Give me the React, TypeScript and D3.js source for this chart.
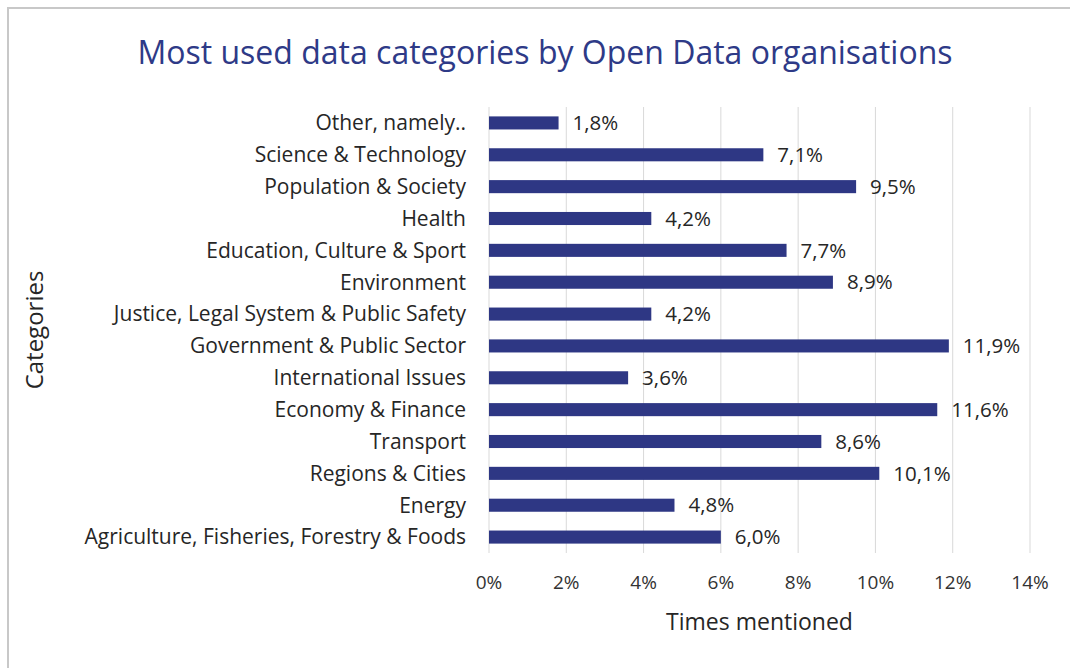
import React, { useEffect, useRef } from 'react';
import * as d3 from 'd3';

const categories = [
  'Other, namely..',
  'Science & Technology',
  'Population & Society',
  'Health',
  'Education, Culture & Sport',
  'Environment',
  'Justice, Legal System & Public Safety',
  'Government & Public Sector',
  'International Issues',
  'Economy & Finance',
  'Transport',
  'Regions & Cities',
  'Energy',
  'Agriculture, Fisheries, Forestry & Foods',
];

const shares = [1.8, 7.1, 9.5, 4.2, 7.7, 8.9, 4.2, 11.9, 3.6, 11.6, 8.6, 10.1, 4.8, 6.0];

const xTicks = [0, 2, 4, 6, 8, 10, 12, 14];

const W = 1070;
const H = 668;
const FONT = '"Open Sans", "Noto Sans", sans-serif';

const App: React.FC = () => {
  const ref = useRef<SVGSVGElement | null>(null);

  useEffect(() => {
    const svg = d3.select(ref.current);
    svg.selectAll('*').remove();

    const left = 489, right = 1030, top = 107, bottom = 553;

    const x = d3.scaleLinear().domain([0, 14]).range([left, right]);
    const y = d3.scaleBand<string>().domain(categories).range([top, bottom])
      .paddingInner(0.59).paddingOuter(0.295);

    // frame edges
    svg.append('rect').attr('x', 0).attr('y', 0).attr('width', W).attr('height', H).attr('fill', '#fff');
    svg.append('line').attr('x1', 7).attr('x2', W).attr('y1', 8).attr('y2', 8)
      .attr('stroke', '#c8c8c8').attr('stroke-width', 2);
    svg.append('line').attr('x1', 8).attr('x2', 8).attr('y1', 7).attr('y2', H)
      .attr('stroke', '#c8c8c8').attr('stroke-width', 2);

    // gridlines
    svg.append('g').selectAll('line').data(xTicks).enter().append('line')
      .attr('x1', d => x(d)).attr('x2', d => x(d))
      .attr('y1', top).attr('y2', bottom)
      .attr('stroke', '#d9d9d9').attr('stroke-width', 1);

    // tick labels
    svg.append('g').selectAll('text').data(xTicks).enter().append('text')
      .attr('x', d => x(d)).attr('y', 589)
      .attr('text-anchor', 'middle')
      .attr('font-family', FONT).attr('font-size', 19).attr('fill', '#333')
      .text(d => `${d}%`);

    // bars
    svg.append('g').selectAll('rect').data(shares).enter().append('rect')
      .attr('x', x(0))
      .attr('y', (d, i) => y(categories[i])!)
      .attr('width', d => x(d) - x(0))
      .attr('height', y.bandwidth())
      .attr('fill', '#2e3784');

    // value labels
    svg.append('g').selectAll('text').data(shares).enter().append('text')
      .attr('x', d => x(d) + 14)
      .attr('y', (d, i) => y(categories[i])! + y.bandwidth() / 2)
      .attr('dy', '0.35em')
      .attr('font-family', FONT).attr('font-size', 20.5).attr('fill', '#262626')
      .text(d => d.toFixed(1).replace('.', ',') + '%');

    // category labels
    svg.append('g').selectAll('text').data(categories).enter().append('text')
      .attr('x', 466)
      .attr('y', d => y(d)! + y.bandwidth() / 2)
      .attr('dy', '0.35em')
      .attr('text-anchor', 'end')
      .attr('font-family', FONT).attr('font-size', 21).attr('fill', '#262626')
      .text(d => d);

    // axis titles
    svg.append('text')
      .attr('x', (left + right) / 2).attr('y', 630)
      .attr('text-anchor', 'middle')
      .attr('font-family', FONT).attr('font-size', 23).attr('fill', '#262626')
      .text('Times mentioned');

    svg.append('text')
      .attr('transform', 'translate(43,330) rotate(-90)')
      .attr('text-anchor', 'middle')
      .attr('font-family', FONT).attr('font-size', 24).attr('fill', '#262626')
      .text('Categories');

    svg.append('text')
      .attr('x', 545).attr('y', 64)
      .attr('text-anchor', 'middle')
      .attr('font-family', FONT).attr('font-size', 32).attr('fill', '#2e3a87')
      .text('Most used data categories by Open Data organisations');
  }, []);

  return (
    <svg
      ref={ref}
      width={W}
      height={H}
      style={{ position: 'fixed', left: 0, top: 0, display: 'block' }}
    />
  );
};

export default App;
